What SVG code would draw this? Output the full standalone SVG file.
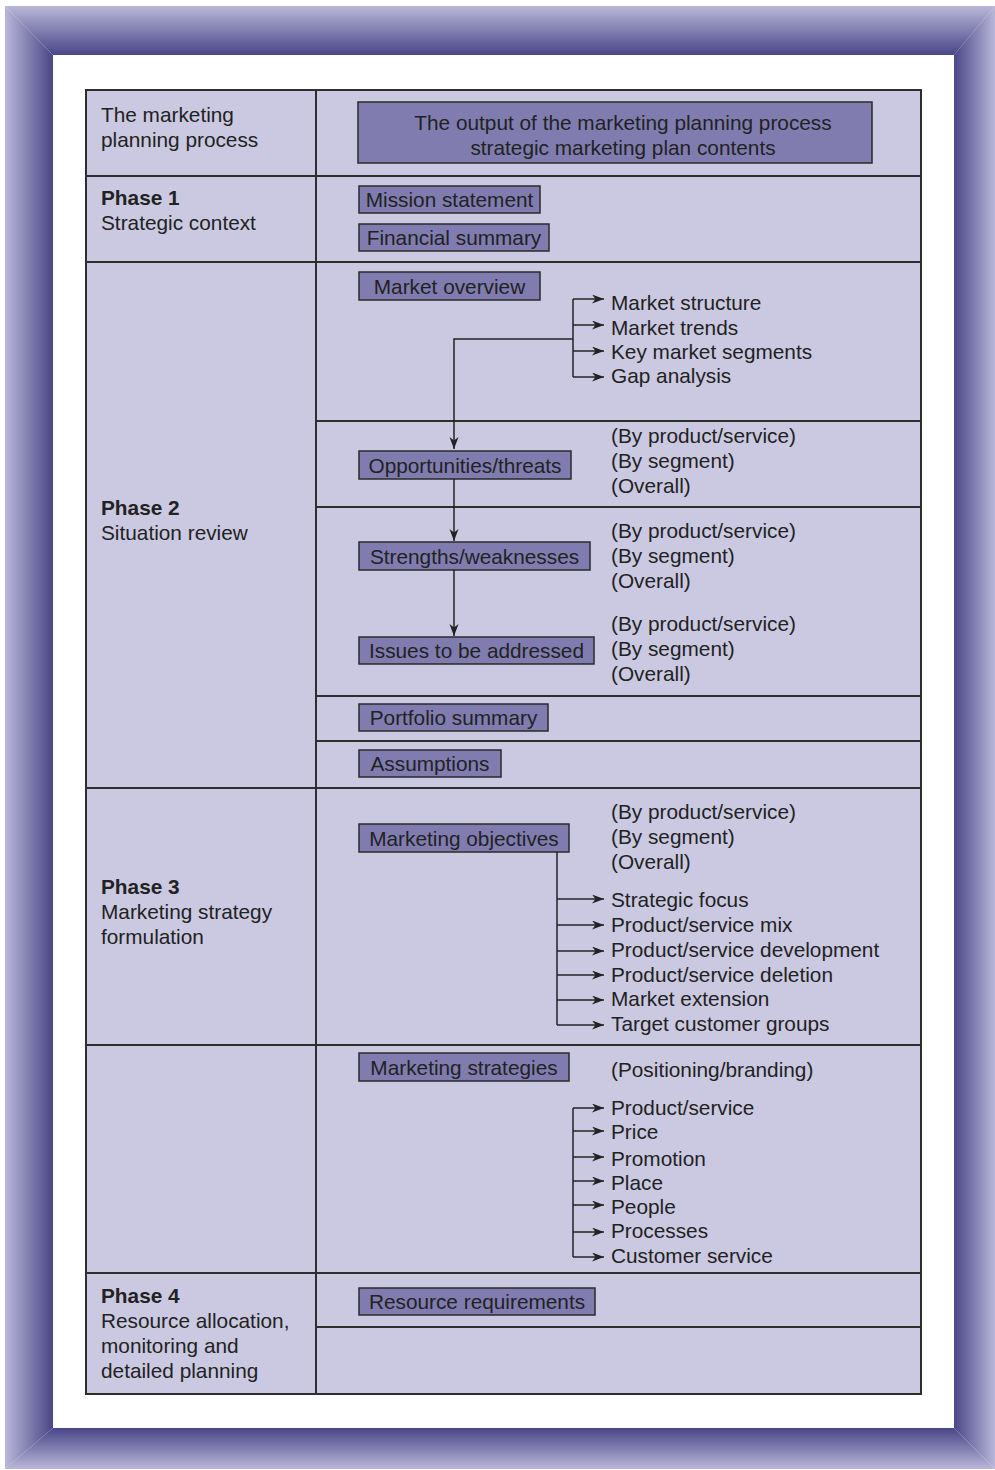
<svg xmlns="http://www.w3.org/2000/svg" width="995" height="1470" viewBox="0 0 995 1470">
<defs>
<linearGradient id="gT" gradientUnits="userSpaceOnUse" x1="0" y1="6" x2="0" y2="55"><stop offset="0" stop-color="#b9b7d9"/><stop offset="1" stop-color="#4a4688"/></linearGradient>
<linearGradient id="gB" gradientUnits="userSpaceOnUse" x1="0" y1="1469" x2="0" y2="1428"><stop offset="0" stop-color="#b9b7d9"/><stop offset="1" stop-color="#4a4688"/></linearGradient>
<linearGradient id="gL" gradientUnits="userSpaceOnUse" x1="5" y1="0" x2="53" y2="0"><stop offset="0" stop-color="#b9b7d9"/><stop offset="1" stop-color="#4a4688"/></linearGradient>
<linearGradient id="gR" gradientUnits="userSpaceOnUse" x1="995" y1="0" x2="954" y2="0"><stop offset="0" stop-color="#b9b7d9"/><stop offset="1" stop-color="#4a4688"/></linearGradient>
<marker id="arr" markerUnits="userSpaceOnUse" markerWidth="14" markerHeight="10" refX="12" refY="4.5" orient="auto">
<path d="M0,0 L12,4.5 L0,9 L3.5,4.5 z" fill="#222"/>
</marker>
<style>
text{font-family:"Liberation Sans",Arial,Helvetica,sans-serif;font-size:20.8px;fill:#222;}
.b{font-weight:bold;}
.c{text-anchor:middle;}
.box{fill:#807cb0;stroke:#2a2a2a;stroke-width:1.5;}
.tbl{fill:#cbc9e1;stroke:#2e2e2e;stroke-width:2;}
.ln{stroke:#2e2e2e;stroke-width:2;fill:none;}
.cn{stroke:#222;stroke-width:1.5;fill:none;}
.ar{stroke:#222;stroke-width:1.5;fill:none;marker-end:url(#arr);}
</style>
</defs>
<rect x="0" y="0" width="995" height="1470" fill="#ffffff"/>
<g id="frame">
<polygon points="5,6 995,6 954,55 53,55" fill="url(#gT)"/>
<polygon points="5,1469 995,1469 954,1428 53,1428" fill="url(#gB)"/>
<polygon points="5,6 53,55 53,1428 5,1469" fill="url(#gL)"/>
<polygon points="995,6 954,55 954,1428 995,1469" fill="url(#gR)"/>
</g>
<g id="table">
<rect x="86" y="90" width="835" height="1304" class="tbl"/>
<line x1="316" y1="90" x2="316" y2="1394" class="ln"/>
<line x1="86" y1="176" x2="921" y2="176" class="ln"/>
<line x1="86" y1="262" x2="921" y2="262" class="ln"/>
<line x1="86" y1="788" x2="921" y2="788" class="ln"/>
<line x1="86" y1="1045" x2="921" y2="1045" class="ln"/>
<line x1="86" y1="1273" x2="921" y2="1273" class="ln"/>
<line x1="316" y1="421" x2="921" y2="421" class="ln"/>
<line x1="316" y1="507" x2="921" y2="507" class="ln"/>
<line x1="316" y1="696" x2="921" y2="696" class="ln"/>
<line x1="316" y1="741" x2="921" y2="741" class="ln"/>
<line x1="316" y1="1327" x2="921" y2="1327" class="ln"/>
</g>
<g id="phase-labels">
<text x="101" y="122">The marketing</text>
<text x="101" y="147">planning process</text>
<text x="101" y="205" class="b">Phase 1</text>
<text x="101" y="230">Strategic context</text>
<text x="101" y="515" class="b">Phase 2</text>
<text x="101" y="540">Situation review</text>
<text x="101" y="894" class="b">Phase 3</text>
<text x="101" y="919">Marketing strategy</text>
<text x="101" y="944">formulation</text>
<text x="101" y="1303" class="b">Phase 4</text>
<text x="101" y="1328">Resource allocation,</text>
<text x="101" y="1353">monitoring and</text>
<text x="101" y="1378">detailed planning</text>
</g>
<g id="header"><rect x="358" y="102" width="514" height="61" class="box"/><text x="623" y="130" class="c">The output of the marketing planning process</text><text x="623" y="155" class="c">strategic marketing plan contents</text></g>
<g id="mission"><rect x="359" y="186" width="181" height="27" class="box"/><text x="449.5" y="206.5" class="c">Mission statement</text></g>
<g id="financial"><rect x="359" y="224" width="190" height="27" class="box"/><text x="454" y="244.5" class="c">Financial summary</text></g>
<g id="market-overview"><rect x="359" y="272" width="181" height="28" class="box"/><text x="449.5" y="293.5" class="c">Market overview</text></g>
<g id="opportunities"><rect x="359" y="451" width="212" height="28" class="box"/><text x="465" y="472.5" class="c">Opportunities/threats</text></g>
<g id="strengths"><rect x="359" y="542" width="231" height="28" class="box"/><text x="474.5" y="563.5" class="c">Strengths/weaknesses</text></g>
<g id="issues"><rect x="359" y="637" width="235" height="27" class="box"/><text x="476.5" y="658" class="c">Issues to be addressed</text></g>
<g id="portfolio"><rect x="359" y="704" width="189" height="27" class="box"/><text x="453.5" y="724.5" class="c">Portfolio summary</text></g>
<g id="assumptions"><rect x="359" y="750" width="142" height="27" class="box"/><text x="430" y="770.5" class="c">Assumptions</text></g>
<g id="objectives"><rect x="359" y="824" width="210" height="28" class="box"/><text x="464" y="845.5" class="c">Marketing objectives</text></g>
<g id="strategies"><rect x="359" y="1053" width="210" height="28" class="box"/><text x="464" y="1074.5" class="c">Marketing strategies</text></g>
<g id="resources"><rect x="359" y="1288" width="236" height="27" class="box"/><text x="477" y="1308.5" class="c">Resource requirements</text></g>
<g id="connectors">
<polyline points="573,339 454,339 454,449" class="ar"/>
<line x1="573" y1="299" x2="573" y2="377" class="cn"/>
<line x1="573" y1="299" x2="604" y2="299" class="ar"/>
<line x1="573" y1="325" x2="604" y2="325" class="ar"/>
<line x1="573" y1="351" x2="604" y2="351" class="ar"/>
<line x1="573" y1="377" x2="604" y2="377" class="ar"/>
<line x1="454" y1="479" x2="454" y2="541" class="ar"/>
<line x1="454" y1="570" x2="454" y2="636" class="ar"/>
<line x1="557" y1="852" x2="557" y2="1025" class="cn"/>
<line x1="557" y1="899" x2="604" y2="899" class="ar"/>
<line x1="557" y1="925" x2="604" y2="925" class="ar"/>
<line x1="557" y1="951" x2="604" y2="951" class="ar"/>
<line x1="557" y1="975" x2="604" y2="975" class="ar"/>
<line x1="557" y1="1000" x2="604" y2="1000" class="ar"/>
<line x1="557" y1="1025" x2="604" y2="1025" class="ar"/>
<line x1="573" y1="1108" x2="573" y2="1257" class="cn"/>
<line x1="573" y1="1108" x2="604" y2="1108" class="ar"/>
<line x1="573" y1="1131" x2="604" y2="1131" class="ar"/>
<line x1="573" y1="1157" x2="604" y2="1157" class="ar"/>
<line x1="573" y1="1181" x2="604" y2="1181" class="ar"/>
<line x1="573" y1="1205" x2="604" y2="1205" class="ar"/>
<line x1="573" y1="1232" x2="604" y2="1232" class="ar"/>
<line x1="573" y1="1257" x2="604" y2="1257" class="ar"/>
</g>
<g id="item-labels">
<text x="611" y="310">Market structure</text>
<text x="611" y="335">Market trends</text>
<text x="611" y="359">Key market segments</text>
<text x="611" y="383">Gap analysis</text>
<text x="611" y="443">(By product/service)</text>
<text x="611" y="468">(By segment)</text>
<text x="611" y="493">(Overall)</text>
<text x="611" y="538">(By product/service)</text>
<text x="611" y="563">(By segment)</text>
<text x="611" y="588">(Overall)</text>
<text x="611" y="631">(By product/service)</text>
<text x="611" y="656">(By segment)</text>
<text x="611" y="681">(Overall)</text>
<text x="611" y="819">(By product/service)</text>
<text x="611" y="844">(By segment)</text>
<text x="611" y="869">(Overall)</text>
<text x="611" y="907">Strategic focus</text>
<text x="611" y="932">Product/service mix</text>
<text x="611" y="957">Product/service development</text>
<text x="611" y="982">Product/service deletion</text>
<text x="611" y="1006">Market extension</text>
<text x="611" y="1031">Target customer groups</text>
<text x="611" y="1077">(Positioning/branding)</text>
<text x="611" y="1115">Product/service</text>
<text x="611" y="1139">Price</text>
<text x="611" y="1166">Promotion</text>
<text x="611" y="1190">Place</text>
<text x="611" y="1214">People</text>
<text x="611" y="1238">Processes</text>
<text x="611" y="1263">Customer service</text>
</g>
</svg>
